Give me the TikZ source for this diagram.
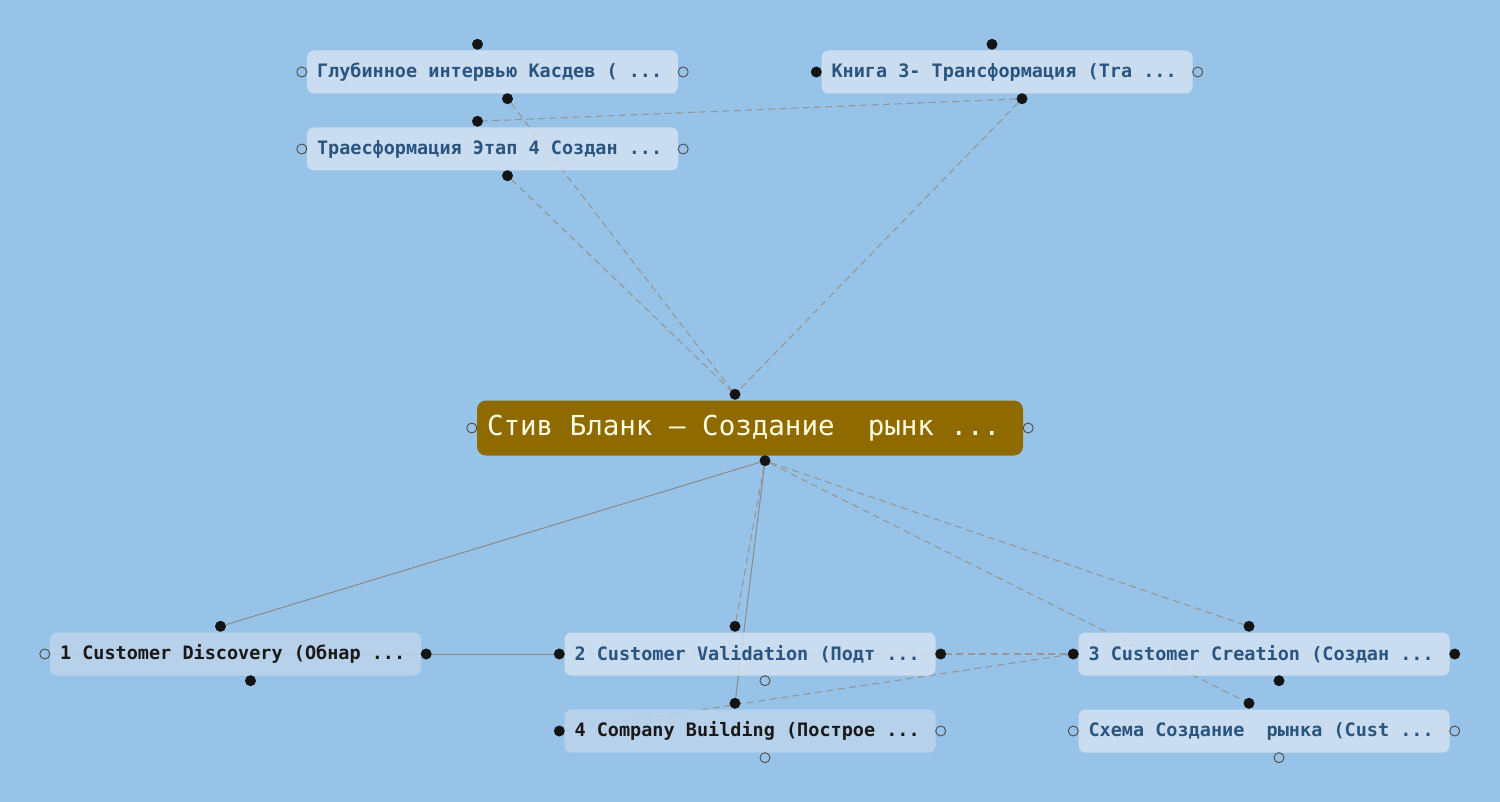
\documentclass[tikz,border=0pt]{standalone}
\usepackage{fontspec}
\newfontfamily\monofont{DejaVu Sans Mono}[BoldFont={DejaVu Sans Mono Bold}]
\newcommand\monospaces{\spaceskip=0.602em\relax\xspaceskip=0.602em\relax}
\usepackage{tikz}
\usetikzlibrary{positioning,backgrounds}
\usepackage{xcolor}
\definecolor{sky}{HTML}{97C3E8}
\definecolor{card}{HTML}{D3E1F1}
\definecolor{cardalt}{HTML}{BDD4EC}
\definecolor{ink}{HTML}{2A5580}
\definecolor{ochre}{HTML}{8F6A00}
\definecolor{wire}{HTML}{8A8A8A}

\begin{document}
\begin{tikzpicture}[x=1pt,y=-1pt,
  card/.style={fill=card,fill opacity=0.85,text opacity=1,rounded corners=7pt,minimum width=371pt,minimum height=43pt,inner sep=0pt,text=ink,font=\monofont\bfseries\fontsize{18.5pt}{20pt}\selectfont,text width=351pt,align=left,execute at begin node=\monospaces},
  altcard/.style={card,fill=cardalt,text=black!90},
  root/.style={fill=ochre,rounded corners=9pt,minimum width=546pt,minimum height=55pt,inner sep=0pt,text=white!88!yellow,font=\monofont\fontsize{27.5pt}{30pt}\selectfont,text width=526pt,align=left,execute at begin node=\monospaces},
  dotf/.style={circle,fill=black!92,inner sep=0pt,minimum size=11pt},
  doto/.style={circle,draw=black!70,fill=sky,line width=0.9pt,inner sep=0pt,minimum size=10pt},
  link/.style={wire,line width=1pt},
  dlink/.style={wire!90,line width=1.1pt,dash pattern=on 7pt off 4.5pt}]
% cards
\node[card] (T1) at (492.5,72) {Глубинное интервью Касдев ( ...};
\node[card] (T2) at (492.5,149) {Траесформация Этап 4 Создан ...};
\node[card] (T3) at (1007,72) {Книга 3- Трансформация (Tra ...};
\node[root] (C) at (750,428) {Стив Бланк – Создание~ рынк ...};
\node[altcard] (B1) at (235.5,654) {1 Customer Discovery (Обнар ...};
\node[card] (B2) at (750,654) {2 Customer Validation (Подт ...};
\node[card] (B3) at (1264,654) {3 Customer Creation (Создан ...};
\node[altcard] (B4) at (750,731) {4 Company Building (Построе ...};
\node[card] (B5) at (1264,731) {Схема Создание~ рынка (Cust ...};
% ports
\foreach \n/\a/\b/\c/\d in {T1/dotf/dotf/doto/doto,T2/dotf/dotf/doto/doto,T3/dotf/dotf/dotf/doto,
  C/dotf/dotf/doto/doto,B1/dotf/dotf/doto/dotf,B2/dotf/doto/dotf/dotf,B3/dotf/dotf/dotf/dotf,
  B4/dotf/doto/dotf/doto,B5/dotf/doto/doto/doto}{
  \node[\a] (\n n) at ([xshift=-15pt,yshift=6pt]\n.north) {};
  \node[\b] (\n s) at ([xshift=15pt,yshift=-5pt]\n.south) {};
  \node[\c] (\n w) at ([xshift=-5pt]\n.west) {};
  \node[\d] (\n e) at ([xshift=5pt]\n.east) {};
}
% connectors
\begin{scope}[on background layer]
\fill[sky] (0,0) rectangle (1500,802);
\draw[dlink] (T1s) -- (Cn);
\draw[dlink] (T2s) -- (Cn);
\draw[dlink] (T3s) -- (Cn);
\draw[dlink] (T3s) -- (T2n);
\draw[link] (Cs) -- (B1n);
\draw[link] (B1w) -- (B2w);
\draw[dlink] (Cs) -- (B2n);
\draw[link] (Cs) -- (B4n);
\draw[dlink] (Cs) -- (B3n);
\draw[dlink] (Cs) -- (B5n);
\draw[dlink] (B2w) -- (B3w);
\draw[dlink] (B4w) -- (B3w);
\end{scope}
\end{tikzpicture}
\end{document}
